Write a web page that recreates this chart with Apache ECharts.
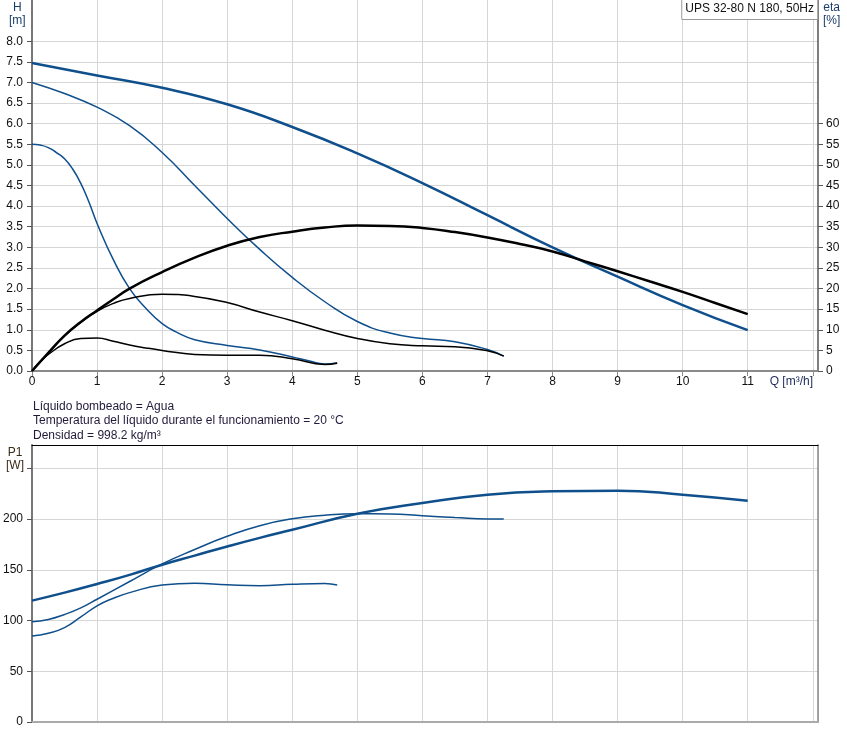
<!DOCTYPE html>
<html>
<head>
<meta charset="utf-8">
<script src="https://cdn.jsdelivr.net/npm/echarts@6/dist/echarts.min.js"></script>
<style>
  html, body { margin: 0; padding: 0; background: #fff; }
  #chart { width: 847px; height: 742px; }
</style>
</head>
<body>
<div id="chart"></div>
<script>
// curvas de la bomba
var qHMax = [0, 1, 2, 3, 4, 5, 6, 7, 8, 9, 10, 11];
var hMax = [7.47, 7.17, 6.87, 6.47, 5.92, 5.28, 4.56, 3.78, 3.0, 2.29, 1.6, 0.99];

var qHMid = [0, 0.5, 1, 1.5, 2, 2.5, 3, 3.5, 4, 4.5, 5, 5.5, 6, 6.5, 7, 7.25];
var hMid = [7.0, 6.73, 6.4, 5.95, 5.3, 4.5, 3.7, 2.95, 2.27, 1.68, 1.2, 0.92, 0.79, 0.71, 0.52, 0.36];

var qHLow = [0, 0.125, 0.25, 0.375, 0.5, 0.625, 0.75, 0.875, 1, 1.25, 1.5, 1.75, 2, 2.25, 2.5, 3, 3.5, 4, 4.25, 4.5, 4.69];
var hLow = [5.5, 5.48, 5.42, 5.3, 5.15, 4.9, 4.55, 4.1, 3.58, 2.7, 2.0, 1.52, 1.15, 0.92, 0.76, 0.62, 0.51, 0.34, 0.25, 0.17, 0.2];

var qEtaMax = [0, 0.25, 0.5, 0.75, 1, 1.25, 1.5, 2, 2.5, 3, 3.5, 4, 4.5, 5, 5.5, 6, 6.5, 7, 7.5, 8, 8.5, 9, 9.5, 10, 10.5, 11];
var etaMax = [0, 4.4, 8.6, 11.9, 14.7, 17.4, 20.0, 24.0, 27.5, 30.4, 32.5, 33.8, 34.8, 35.3, 35.2, 34.7, 33.7, 32.4, 30.8, 29.0, 26.6, 24.2, 21.7, 19.2, 16.5, 13.8];

var qEtaMid = [0, 0.25, 0.5, 0.75, 1, 1.25, 1.5, 2, 2.5, 3, 3.5, 4, 4.5, 5, 5.5, 6, 6.5, 7, 7.25];
var etaMid = [0, 4.3, 8.5, 11.8, 14.5, 16.4, 17.6, 18.6, 18.1, 16.6, 14.3, 12.2, 9.9, 7.9, 6.6, 6.1, 5.9, 4.9, 3.6];

var qEtaLow = [0, 0.125, 0.25, 0.5, 0.75, 1, 1.25, 1.5, 1.75, 2, 2.5, 3, 3.5, 4, 4.5, 4.69];
var etaLow = [0, 2.3, 4.0, 6.6, 7.9, 8.0, 7.2, 6.3, 5.6, 5.0, 4.0, 3.8, 3.8, 3.0, 1.6, 1.9];

var qPMax = [0, 0.5, 1, 1.5, 2, 2.5, 3, 3.5, 4, 5, 6, 7, 8, 9, 10, 11];
var pMax = [119.6, 127.5, 136, 145, 155, 164, 173, 181.5, 189.4, 205.2, 215.8, 224, 227.3, 228, 224, 218];

var qPMid = [0, 0.25, 0.5, 0.75, 1, 1.5, 2, 2.5, 3, 3.5, 4, 4.5, 5, 5.5, 6, 6.5, 7, 7.25];
var pMid = [98.8, 101, 106, 112.5, 121, 138.5, 155.8, 170, 183, 193.5, 200.3, 203.8, 205.2, 205, 203.3, 201.5, 200, 200];

var qPLow = [0, 0.25, 0.5, 0.75, 1, 1.25, 1.5, 2, 2.5, 3, 3.5, 4, 4.5, 4.69];
var pLow = [84.7, 87.5, 93, 103.5, 114.5, 122, 127.5, 135, 136.8, 135.3, 134.4, 135.8, 136.5, 135];

var qTicks = [0, 1, 2, 3, 4, 5, 6, 7, 8, 9, 10, 11];
var hTicks = [0, 0.5, 1, 1.5, 2, 2.5, 3, 3.5, 4, 4.5, 5, 5.5, 6, 6.5, 7, 7.5, 8];
var etaTicks = [0, 5, 10, 15, 20, 25, 30, 35, 40, 45, 50, 55, 60];
var pTicks = [0, 50, 100, 150, 200];

var BLUE = '#0f4f8c';
var FONT = 'Liberation Sans, Arial, sans-serif';
var GRID_COLOR = '#d6d6d6';

function pairs(xs, ys) {
    return xs.map(function (x, i) { return [x, ys[i]]; });
}

function curve(name, xi, yi, xs, ys, color, width) {
    return {
        name: name,
        type: 'line',
        xAxisIndex: xi,
        yAxisIndex: yi,
        data: pairs(xs, ys),
        smooth: 0.5,
        showSymbol: false,
        symbol: 'none',
        silent: true,
        lineStyle: { color: color, width: width },
        z: width > 2 ? 4 : 3
    };
}

var labelStyle = { color: '#111', fontSize: 12, fontFamily: FONT };

var chart = echarts.init(document.getElementById('chart'));

chart.setOption({
    animation: false,
    backgroundColor: '#fff',
    title: {
        text: 'UPS 32-80 N 180, 50Hz',
        right: 29,
        top: -1,
        padding: [4, 4, 5, 4],
        borderColor: '#999',
        borderWidth: 1,
        backgroundColor: '#fff',
        textStyle: { fontSize: 12, fontWeight: 'normal', color: '#111', fontFamily: FONT }
    },
    grid: [
        { left: 32, right: 29, top: 0, height: 371, containLabel: false },
        { left: 32, right: 29, top: 445, height: 277, containLabel: false }
    ],
    xAxis: [
        {
            gridIndex: 0, type: 'value', min: 0, max: 12.08, interval: 1,
            axisLine: { onZero: false, lineStyle: { color: '#8a8a8a', width: 2 } },
            axisTick: { length: 5, lineStyle: { color: '#8a8a8a' }, customValues: qTicks.concat([12]) },
            axisLabel: Object.assign({ margin: 5, customValues: qTicks,
                formatter: function (v) { return v > 11.5 ? '' : String(v); } }, labelStyle),
            splitLine: { lineStyle: { color: GRID_COLOR } }
        },
        {
            gridIndex: 1, type: 'value', min: 0, max: 12.08, interval: 1,
            axisLine: { onZero: false, lineStyle: { color: '#aaa', width: 2 } },
            axisTick: { show: false },
            axisLabel: { show: false },
            splitLine: { lineStyle: { color: GRID_COLOR } }
        },
        {
            gridIndex: 1, type: 'value', min: 0, max: 12.08, interval: 1, position: 'top',
            axisLine: { onZero: false, lineStyle: { color: '#000', width: 1 } },
            axisTick: { show: false },
            axisLabel: { show: false },
            splitLine: { show: false }
        }
    ],
    yAxis: [
        {
            gridIndex: 0, type: 'value', min: 0, max: 9, interval: 0.5,
            axisLine: { show: true, onZero: false, lineStyle: { color: '#777', width: 2 } },
            axisTick: { show: true, length: 5, lineStyle: { color: '#555' }, customValues: hTicks },
            axisLabel: Object.assign({ margin: 9, customValues: hTicks,
                formatter: function (v) { return v > 8 ? '' : v.toFixed(1); } }, labelStyle),
            splitLine: { lineStyle: { color: GRID_COLOR } }
        },
        {
            gridIndex: 0, type: 'value', min: 0, max: 90, interval: 5, position: 'right',
            axisLine: { show: true, onZero: false, lineStyle: { color: '#555', width: 1.5 } },
            axisTick: { show: true, length: 5, lineStyle: { color: '#555' }, customValues: etaTicks },
            axisLabel: Object.assign({ margin: 8, customValues: etaTicks,
                formatter: function (v) { return v > 60 ? '' : String(v); } }, labelStyle),
            splitLine: { show: false }
        },
        {
            gridIndex: 1, type: 'value', min: 0, max: 273, interval: 50,
            axisLine: { show: true, onZero: false, lineStyle: { color: '#777', width: 2 } },
            axisTick: { show: true, length: 5, lineStyle: { color: '#555' }, customValues: [0, 50, 100, 150, 200, 250] },
            axisLabel: Object.assign({ margin: 9, customValues: pTicks,
                formatter: function (v) { return v > 200 ? '' : String(v); } }, labelStyle),
            splitLine: { lineStyle: { color: GRID_COLOR } }
        },
        {
            gridIndex: 1, type: 'value', min: 0, max: 273, position: 'right',
            axisLine: { show: true, onZero: false, lineStyle: { color: '#888', width: 1.5 } },
            axisTick: { show: false },
            axisLabel: { show: false },
            splitLine: { show: false }
        }
    ],
    graphic: [
        { type: 'text', left: 9, top: 1, style: { text: 'H\n[m]', fill: '#1b3d6b', font: '12px ' + FONT, lineHeight: 13, textAlign: 'center' } },
        { type: 'text', left: 823, top: 1, style: { text: 'eta\n[%]', fill: '#1b3d6b', font: '12px ' + FONT, lineHeight: 13, textAlign: 'center' } },
        { type: 'text', left: 6, top: 446, style: { text: 'P1\n[W]', fill: '#3a2a1a', font: '12px ' + FONT, lineHeight: 13, textAlign: 'center' } },
        { type: 'text', right: 34, top: 376, style: { text: 'Q [m³/h]', fill: '#1b2a5a', font: '12px ' + FONT } },
        { type: 'text', left: 33, top: 399, style: {
            text: 'Líquido bombeado = Agua\nTemperatura del líquido durante el funcionamiento = 20 °C\nDensidad = 998.2 kg/m³',
            fill: '#221a3a', font: '12px ' + FONT, lineHeight: 14.5 } }
    ],
    series: [
        curve('H max', 0, 0, qHMax, hMax, BLUE, 2.5),
        curve('H mid', 0, 0, qHMid, hMid, BLUE, 1.5),
        curve('H low', 0, 0, qHLow, hLow, BLUE, 1.5),
        curve('eta max', 0, 1, qEtaMax, etaMax, '#000', 2.5),
        curve('eta mid', 0, 1, qEtaMid, etaMid, '#000', 1.5),
        curve('eta low', 0, 1, qEtaLow, etaLow, '#000', 1.5),
        curve('P1 max', 1, 2, qPMax, pMax, BLUE, 2.5),
        curve('P1 mid', 1, 2, qPMid, pMid, BLUE, 1.5),
        curve('P1 low', 1, 2, qPLow, pLow, BLUE, 1.5)
    ]
});
</script>
</body>
</html>
